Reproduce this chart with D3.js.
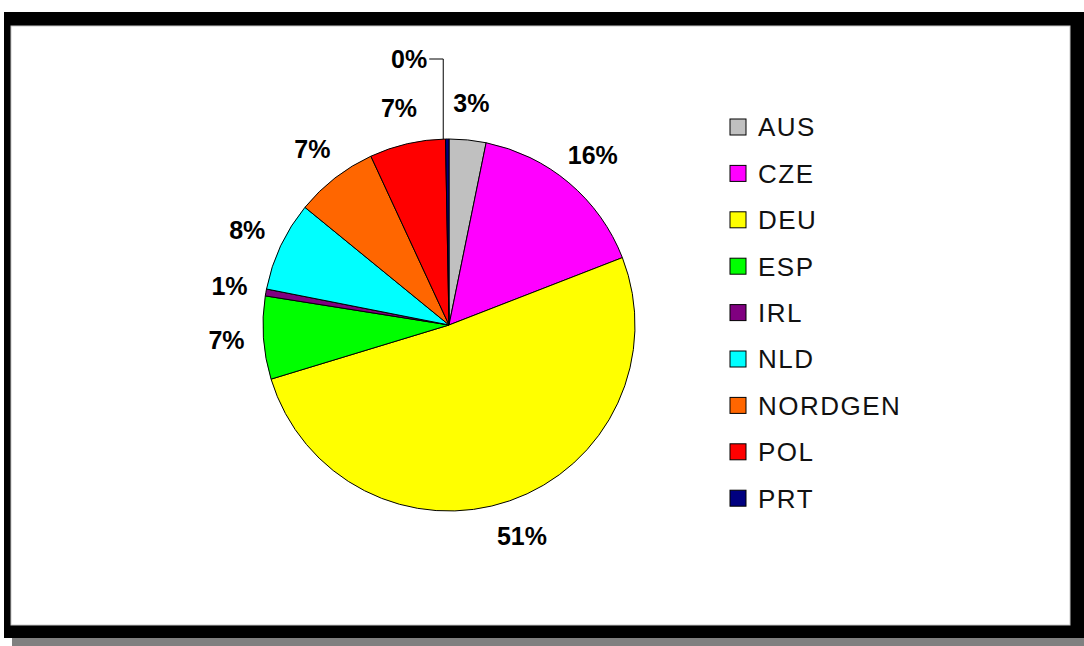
<!DOCTYPE html>
<html>
<head>
<meta charset="utf-8">
<script src="https://cdnjs.cloudflare.com/ajax/libs/d3/7.8.5/d3.min.js"></script>
<style>
  body { margin: 0; background: #fff; }
  svg { display: block; }
</style>
</head>
<body>
<div id="chart"></div>
<script>
// categories and shares (percent of total), clockwise from 12 o'clock
var countries = ["AUS", "CZE", "DEU", "ESP", "IRL", "NLD", "NORDGEN", "POL", "PRT"];
var shares = [3.2, 15.9, 51.2, 7.2, 0.6, 7.8, 7.2, 6.6, 0.3];
var sliceColors = ["#C0C0C0", "#FF00FF", "#FFFF00", "#00FF00", "#800080", "#00FFFF", "#FF6600", "#FF0000", "#000080"];

var width = 1084, height = 646;
var cx = 449, cy = 325, radius = 186;

var svg = d3.select("#chart")
    .append("svg")
    .attr("width", width)
    .attr("height", height);

// frame: shadow, black border, white plot area
svg.append("rect")
    .attr("x", 12).attr("y", 638)
    .attr("width", 1072).attr("height", 8)
    .attr("fill", "#808080");
svg.append("rect")
    .attr("x", 4).attr("y", 12)
    .attr("width", 1080).attr("height", 626)
    .attr("fill", "#000");
svg.append("rect")
    .attr("x", 11).attr("y", 26)
    .attr("width", 1059).attr("height", 599)
    .attr("fill", "#fff")
    .attr("stroke", "#c8c8c8")
    .attr("stroke-width", 1);

var data = countries.map(function (c, i) {
    return { name: c, value: shares[i], color: sliceColors[i] };
});

var pie = d3.pie()
    .sort(null)
    .value(function (d) { return d.value; });

var arcs = pie(data);

var arc = d3.arc()
    .innerRadius(0)
    .outerRadius(radius);

var labelArc = d3.arc()
    .innerRadius(223)
    .outerRadius(223);

var g = svg.append("g")
    .attr("transform", "translate(" + cx + "," + cy + ")");

g.selectAll("path")
    .data(arcs)
    .enter()
    .append("path")
    .attr("d", arc)
    .attr("fill", function (d) { return d.data.color; })
    .attr("stroke", "#000")
    .attr("stroke-width", 1);

var total = d3.sum(shares);
function pct(d) { return Math.round(d.data.value / total * 100) + "%"; }

// regular labels (all but the tiny last slice)
g.selectAll(".pct")
    .data(arcs.slice(0, arcs.length - 1))
    .enter()
    .append("text")
    .attr("class", "pct")
    .attr("transform", function (d) { return "translate(" + labelArc.centroid(d) + ")"; })
    .attr("text-anchor", "middle")
    .attr("dy", "0.36em")
    .style("font-family", "Arial, 'Liberation Sans', sans-serif")
    .style("font-weight", "bold")
    .style("font-size", "25px")
    .text(pct);

// the tiny PRT slice gets a leader line
var last = arcs[arcs.length - 1];
var mid = (last.startAngle + last.endAngle) / 2;
var lx = radius * Math.sin(mid) - 4;
var edgeY = -radius * Math.cos(mid);
var topY = edgeY - 80;

g.append("polyline")
    .attr("points", [[lx - 14, topY], [lx, topY], [lx, edgeY]].join(" "))
    .attr("fill", "none")
    .attr("stroke", "#000")
    .attr("stroke-width", 1);

g.append("text")
    .attr("x", lx - 16)
    .attr("y", topY)
    .attr("dy", "0.36em")
    .attr("text-anchor", "end")
    .style("font-family", "Arial, 'Liberation Sans', sans-serif")
    .style("font-weight", "bold")
    .style("font-size", "25px")
    .text(pct(last));

// legend
var legend = svg.append("g")
    .attr("transform", "translate(730,127)");

var item = legend.selectAll(".item")
    .data(data)
    .enter()
    .append("g")
    .attr("class", "item")
    .attr("transform", function (d, i) { return "translate(0," + (i * 46.4) + ")"; });

item.append("rect")
    .attr("x", 0).attr("y", -8)
    .attr("width", 16).attr("height", 16)
    .attr("fill", function (d) { return d.color; })
    .attr("stroke", "#000")
    .attr("stroke-width", 1);

item.append("text")
    .attr("x", 28)
    .attr("y", 0)
    .attr("dy", "0.36em")
    .style("font-family", "Arial, 'Liberation Sans', sans-serif")
    .style("font-size", "26px")
    .style("letter-spacing", "1.5px")
    .style("fill", "#111")
    .text(function (d) { return d.name; });
</script>
</body>
</html>
